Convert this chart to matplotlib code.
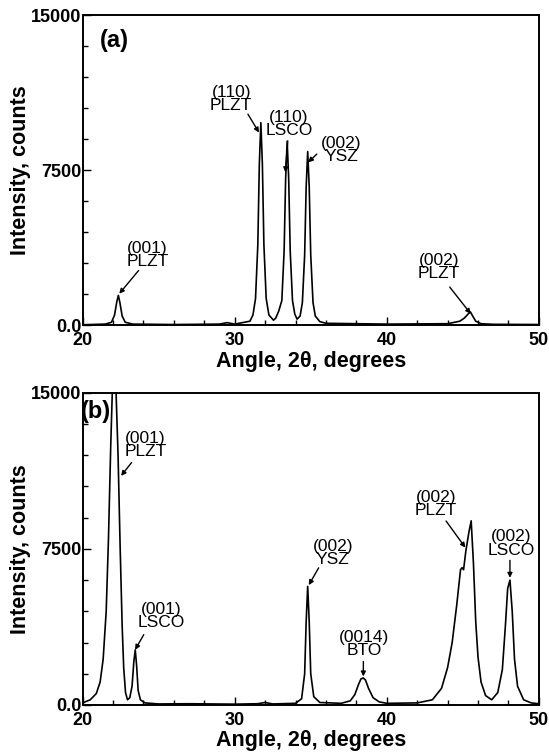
import matplotlib
matplotlib.use("Agg")
import matplotlib.pyplot as plt
from matplotlib.ticker import MultipleLocator, FixedLocator, FixedFormatter

plt.rcParams['font.family'] = ['Liberation Sans', 'DejaVu Sans']

# panel (a): angle (deg) and intensity (counts)
angle_a = [20.0, 21.5, 21.9, 22.1, 22.25, 22.35, 22.45, 22.6, 22.8, 23.3, 26.0, 29.0,
           29.5, 30.0, 31.0, 31.2, 31.37, 31.52, 31.62, 31.72, 31.82, 31.92, 32.07, 32.25,
           32.55, 32.7, 32.9, 33.1, 33.25, 33.35, 33.45, 33.55, 33.65, 33.8, 33.95, 34.1,
           34.3, 34.45, 34.6, 34.7, 34.8, 34.9, 35.0, 35.15, 35.3, 35.6, 36.0, 40.0,
           44.0, 44.8, 45.1, 45.35, 45.5, 45.65, 45.85, 46.2, 47.0, 50.0]
counts_a = [30, 60, 150, 500, 1150, 1450, 1100, 450, 150, 60, 40, 60,
            130, 60, 200, 500, 1300, 3900, 7800, 9800, 7800, 3900, 1300, 500,
            250, 350, 700, 1200, 3600, 7100, 8900, 7100, 3600, 1200, 550, 300,
            450, 1100, 3400, 6700, 8400, 6700, 3400, 1100, 450, 180, 100, 60,
            80, 200, 350, 550, 650, 450, 200, 80, 50, 40]

# panel (b)
angle_b = [20.0, 20.5, 20.9, 21.15, 21.35, 21.55, 21.7, 21.85, 21.95, 22.06, 22.2, 22.33,
           22.47, 22.6, 22.7, 22.82, 22.95, 23.1, 23.25, 23.37, 23.46, 23.55, 23.65, 23.8,
           24.1, 25.0, 27.0, 30.0, 31.5, 32.0, 32.5, 34.0, 34.4, 34.6, 34.7, 34.8,
           34.9, 35.0, 35.2, 35.6, 37.0, 37.6, 37.9, 38.15, 38.3, 38.45, 38.6, 38.8,
           39.1, 39.5, 40.0, 42.0, 43.0, 43.6, 44.0, 44.3, 44.6, 44.85, 44.95, 45.05,
           45.2, 45.4, 45.55, 45.7, 45.85, 46.0, 46.2, 46.5, 46.9, 47.3, 47.6, 47.8,
           47.95, 48.1, 48.25, 48.4, 48.6, 49.0, 49.5, 50.0]
counts_b = [100, 250, 550, 1100, 2200, 4500, 8000, 12500, 15000, 15400, 15000, 12000,
            7500, 3800, 1800, 600, 250, 350, 900, 2100, 2650, 1900, 700, 250,
            100, 50, 60, 40, 60, 120, 50, 80, 300, 1500, 4000, 5700,
            4000, 1500, 400, 120, 80, 200, 500, 1000, 1250, 1300, 1200, 800,
            350, 150, 80, 100, 250, 800, 1800, 3000, 4800, 6500, 6600, 6500,
            7400, 8300, 8850, 6800, 4000, 2300, 1100, 450, 250, 600, 1700, 3800,
            5600, 6000, 4500, 2200, 900, 250, 100, 60]

# peak labels: text, text position, arrow tail, arrow head
labels_a = ["(001)\nPLZT", "(110)\nPLZT", "(110)\nLSCO", "(002)\nYSZ", "(002)\nPLZT"]
text_a = [(24.25, 3410), (29.77, 10930), (33.56, 9730), (37.0, 8490), (43.45, 2810)]
tail_a = [(23.68, 2650), (30.87, 10210), (33.49, 8920), (35.4, 8280), (44.14, 1850)]
head_a = [(22.41, 1530), (31.6, 9320), (33.33, 7400), (34.83, 7880), (45.52, 560)]

labels_b = ["(001)\nPLZT", "(001)\nLSCO", "(002)\nYSZ", "(0014)\nBTO", "(002)\nPLZT", "(002)\nLSCO"]
text_b = [(24.14, 12500), (25.17, 4260), (36.44, 7320), (38.51, 2940), (43.22, 9650), (48.16, 7760)]
tail_b = [(23.22, 11650), (24.02, 3380), (35.52, 6590), (38.46, 2090), (43.9, 8840), (48.1, 6950)]
head_b = [(22.53, 11010), (23.45, 2650), (34.87, 5760), (38.46, 1370), (45.17, 7560), (48.1, 6110)]

fig = plt.figure(figsize=(5.49, 7.54), dpi=100)
ax_a = fig.add_axes([0.1505, 0.5685, 0.8310, 0.4115])
ax_b = fig.add_axes([0.1505, 0.0650, 0.8310, 0.4140])

panels = [
    (ax_a, angle_a, counts_a, labels_a, text_a, tail_a, head_a, "(a)", (22.07, 13750)),
    (ax_b, angle_b, counts_b, labels_b, text_b, tail_b, head_b, "(b)", (20.85, 14100)),
]

for ax, x, y, labs, tpos, tails, heads, tag, tagpos in panels:
    ax.plot(x, y, color='black', linewidth=1.2)
    ax.set_xlim(20, 50)
    ax.set_ylim(0, 15000)
    ax.xaxis.set_major_locator(MultipleLocator(10))
    ax.xaxis.set_minor_locator(MultipleLocator(2))
    ax.yaxis.set_major_locator(FixedLocator([0, 7500, 15000]))
    ax.yaxis.set_major_formatter(FixedFormatter(["0.0", "7500", "15000"]))
    ax.yaxis.set_minor_locator(MultipleLocator(1500))
    ax.tick_params(which='both', direction='in', width=1.0)
    ax.tick_params(which='major', length=6, labelsize=13, pad=1)
    ax.tick_params(axis='x', which='major', pad=5)
    ax.tick_params(which='minor', length=3.5)
    for lbl in ax.get_xticklabels() + ax.get_yticklabels():
        lbl.set_fontweight('bold')
    for sp in ax.spines.values():
        sp.set_linewidth(1.4)
    ax.set_xlabel("Angle, 2θ, degrees", fontsize=15.5, fontweight='bold', labelpad=1)
    ax.set_ylabel("Intensity, counts", fontsize=15.5, fontweight='bold', labelpad=0)
    ax.text(tagpos[0], tagpos[1], tag, fontsize=17, fontweight='bold',
            ha='center', va='center')
    for lab, tp, tl, hd in zip(labs, tpos, tails, heads):
        ax.text(tp[0], tp[1], lab, fontsize=12.5, ha='center', va='center',
                linespacing=0.85)
        ax.annotate("", xy=hd, xytext=tl,
                    arrowprops=dict(arrowstyle='-|>', color='black', lw=1.0,
                                    mutation_scale=7, shrinkA=0, shrinkB=0))

fig.savefig("out.png", dpi=100)
